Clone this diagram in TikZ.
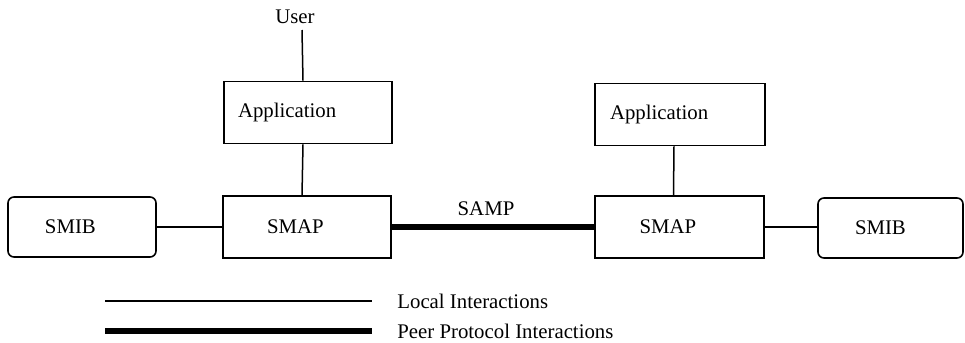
\documentclass[tikz,border=0pt]{standalone}
\usepackage{fontspec}
\setmainfont{Liberation Serif}
\begin{document}
\begin{tikzpicture}[x=0.5pt,y=-0.5pt,
  every node/.style={font=\fontsize{10.4}{12}\selectfont},
  box/.style={draw, line width=0.8pt, minimum height=31pt, align=left, inner ysep=0pt},
  appbox/.style={box, minimum width=84pt, inner xsep=7pt, text width=70pt},
  smapbox/.style={box, minimum width=84pt, inner xsep=22pt, text width=40pt},
  smibbox/.style={box, rounded corners=3pt, minimum height=30pt, inner xsep=18.5pt},
  thin/.style={line width=0.75pt},
  thick/.style={line width=3pt}]
\useasboundingbox (0,0) rectangle (965,343);
\node (user) at (295,17) {User};
\node[appbox] (appL) at (308,112.5) {Application};
\node[smapbox] (smapL) at (307,227) {SMAP};
\node[smibbox, minimum width=74pt, text width=37pt] (smibL) at (82,227) {SMIB};
\node[appbox, minimum width=85pt] (appR) at (680,114.5) {Application};
\node[smapbox, minimum width=84.5pt] (smapR) at (679.5,227) {SMAP};
\node[smibbox, minimum width=72.5pt, text width=35.5pt] (smibR) at (890.5,228) {SMIB};
\node (samp) at (486,209) {SAMP};
\draw[thin] (302,30) -- ([xshift=-2.5pt]appL.north);
\draw[thin] ([xshift=-2.5pt]appL.south) -- ([xshift=-2.5pt]smapL.north);
\draw[thin] ([xshift=-3pt]appR.south) -- ([xshift=-3pt]smapR.north);
\draw[thin] (smibL.east) -- (smapL.west);
\draw[thin] (smapR.east) -- (smibR.west|-smapR.east);
\draw[thick] (smapL.east) -- (smapR.west);
\coordinate (la) at (105,301);
\coordinate (lb) at (372,301);
\coordinate (pa) at (105,331);
\coordinate (pb) at (372,331);
\draw[thin] (la) -- (lb);
\draw[thick] (pa) -- (pb);
\node[anchor=west, inner xsep=0pt] (ltext) at (397,301) {Local Interactions};
\node[anchor=west, inner xsep=0pt] (ptext) at (397,331) {Peer Protocol Interactions};
\end{tikzpicture}
\end{document}
